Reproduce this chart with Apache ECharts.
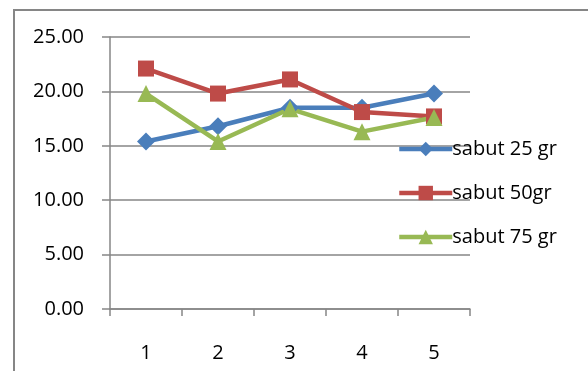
<!DOCTYPE html>
<html>
<head>
<meta charset="utf-8">
<script src="https://cdn.jsdelivr.net/npm/echarts@6/dist/echarts.min.js"></script>
<style>
  html, body { margin: 0; padding: 0; background: #fff; }
  #chart { width: 588px; height: 371px; }
</style>
</head>
<body>
<div id="chart"></div>
<script>
const kategori = ['1', '2', '3', '4', '5'];
const sabut25 = [15.4, 16.8, 18.5, 18.5, 19.8];
const sabut50 = [22.1, 19.8, 21.1, 18.1, 17.7];
const sabut75 = [19.8, 15.4, 18.4, 16.3, 17.6];
const namaSeri = ['sabut 25 gr', 'sabut 50gr', 'sabut 75 gr'];

const huruf = 'Open Sans';
const abu = '#868686';

var grafik = echarts.init(document.getElementById('chart'));

function seri(nama, data, warna, simbol, ukuran) {
  return {
    name: nama,
    type: 'line',
    data: data,
    symbol: simbol,
    symbolSize: ukuran,
    showAllSymbol: true,
    lineStyle: { color: warna, width: 4.5 },
    itemStyle: { color: warna },
    emphasis: { disabled: true },
    animation: false
  };
}

var opsi = {
  animation: false,
  graphic: [
    {
      type: 'rect',
      shape: { x: 14, y: 10, width: 700, height: 500 },
      style: { fill: 'none', stroke: abu, lineWidth: 2 },
      silent: true
    }
  ],
  grid: { left: 110, right: 118, top: 37, bottom: 62 },
  legend: {
    orient: 'vertical',
    left: 392,
    top: 134,
    itemWidth: 53,
    itemHeight: 18,
    itemGap: 24,
    data: namaSeri,
    lineStyle: { width: 4.5 },
    textStyle: { fontFamily: huruf, fontSize: 20, color: '#000', padding: [0, 0, 0, -5] }
  },
  xAxis: {
    type: 'category',
    data: kategori,
    boundaryGap: true,
    axisLine: { lineStyle: { color: abu, width: 1.5 } },
    axisTick: { show: true, length: 7, lineStyle: { color: abu, width: 1.5 } },
    axisLabel: { margin: 34, fontFamily: huruf, fontSize: 20, color: '#000' }
  },
  yAxis: {
    type: 'value',
    min: 0,
    max: 25,
    interval: 5,
    axisLine: { show: true, lineStyle: { color: abu, width: 1.5 } },
    axisTick: { show: true, length: 8, lineStyle: { color: abu, width: 1.5 } },
    splitLine: { lineStyle: { color: abu, width: 1.5 } },
    axisLabel: {
      margin: 26,
      fontFamily: huruf,
      fontSize: 20,
      color: '#000',
      formatter: function (v) { return v.toFixed(2); }
    }
  },
  series: [
    seri(namaSeri[0], sabut25, '#4A7EBB', 'diamond', 18),
    seri(namaSeri[1], sabut50, '#BE4B48', 'rect', 16),
    seri(namaSeri[2], sabut75, '#98B954', 'triangle', 17)
  ]
};

grafik.setOption(opsi);
</script>
</body>
</html>
